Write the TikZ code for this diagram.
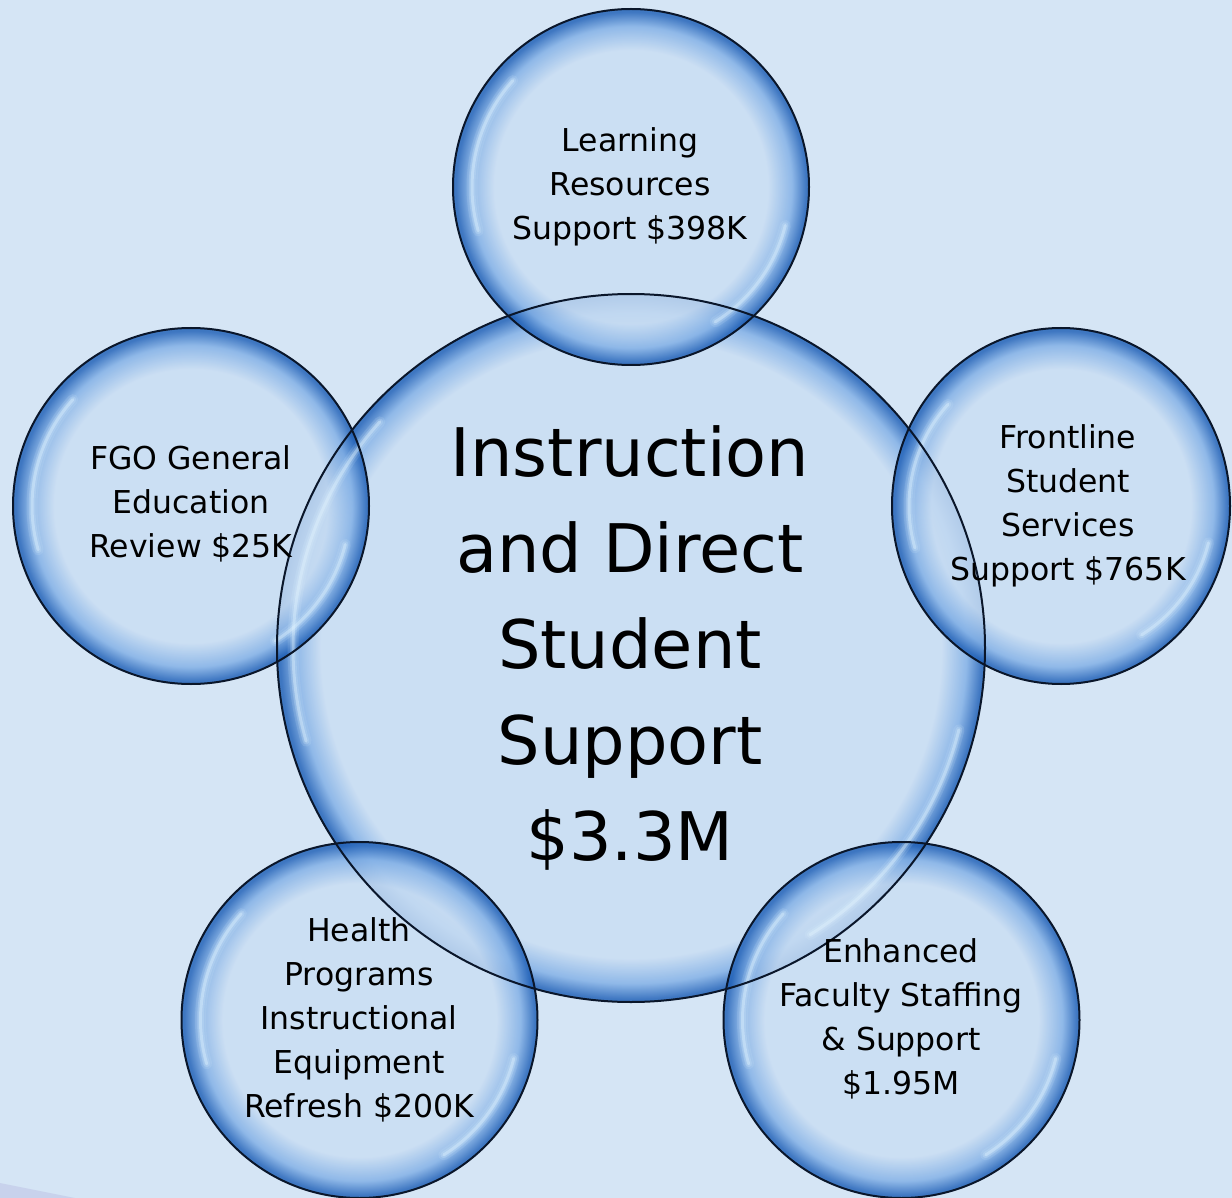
\documentclass[tikz,border=0pt]{standalone}
\usepackage{fontspec}
\setmainfont{DejaVu Sans}
\usetikzlibrary{shapes.geometric}
\definecolor{bgcol}{RGB}{213,229,245}
\definecolor{bin}{RGB}{202,222,243}
\definecolor{bmid}{RGB}{130,176,230}
\definecolor{bout}{RGB}{34,98,184}
\definecolor{rimline}{RGB}{10,22,42}
\definecolor{curl}{RGB}{200,210,236}
\definecolor{glintcol}{RGB}{225,244,255}
\pgfdeclareradialshading{bubble}{\pgfpoint{0bp}{0bp}}{color(0bp)=(bin); color(19.2bp)=(bin); color(22.6bp)=(bmid); color(24.6bp)=(bout); color(25bp)=(bout); color(50bp)=(bout)}
\pgfdeclareradialshading{bubblebig}{\pgfpoint{0bp}{0bp}}{color(0bp)=(bin); color(21.9bp)=(bin); color(23.7bp)=(bmid); color(24.8bp)=(bout); color(25bp)=(bout); color(50bp)=(bout)}
\newcommand\bubglint[3]{%
  \foreach \w/\o in {11/0.12, 6.5/0.2, 3/0.4} {
    \draw[glintcol, line width=\w pt, opacity=\o, line cap=round]
      (#1,#2) ++(-138:#3) arc[start angle=-138, end angle=-196, radius=#3];
    \draw[glintcol, line width=\w pt, opacity=\o, line cap=round]
      (#1,#2) ++(14:#3) arc[start angle=14, end angle=58, radius=#3];
  }}
\tikzset{
  smallbub/.style={shading=bubble, fill opacity=0.84},
  bigbub/.style={shading=bubblebig, fill opacity=0.84},
  ring/.style={circle, draw=rimline, line width=2pt, inner sep=0pt, outer sep=0pt},
  ovalring/.style={ellipse, draw=rimline, line width=2pt, inner sep=0pt, outer sep=0pt},
  smalltxt/.style={align=center, text=black, inner sep=0pt, font=\fontsize{31.5}{44}\selectfont},
  bigtxt/.style={align=center, text=black, inner sep=0pt, font=\fontsize{67}{96}\selectfont}
}
\begin{document}
\begin{tikzpicture}[x=1pt, y=-1pt]
  \useasboundingbox (0,0) rectangle (1232,1198);
  \fill[bgcol] (0,0) rectangle (1232,1198);
  \fill[curl] (0,1183) -- (75,1198) -- (0,1198) -- cycle;

  % bubble fills
  \shade[bigbub] (631,648) circle[radius=354];
  \shade[smallbub] (631,187) circle[radius=178];
  \shade[smallbub] (191,506) circle[radius=178];
  \shade[smallbub] (1061,506) circle[x radius=169, y radius=178];
  \shade[smallbub] (359.5,1020) circle[radius=178];
  \shade[smallbub] (901.5,1020) circle[radius=178];

  % glints
  \bubglint{631}{648}{338}
  \bubglint{631}{187}{159}
  \bubglint{191}{506}{159}
  \bubglint{1061}{506}{152}
  \bubglint{359.5}{1020}{159}
  \bubglint{901.5}{1020}{159}

  % outlines
  \node[ring, minimum size=708pt] (core) at (631,648) {};
  \node[ring, minimum size=356pt] (lrs) at (631,187) {};
  \node[ring, minimum size=356pt] (fgo) at (191,506) {};
  \node[ovalring, minimum width=338pt, minimum height=356pt] (fss) at (1061,506) {};
  \node[ring, minimum size=356pt] (hpe) at (359.5,1020) {};
  \node[ring, minimum size=356pt] (efs) at (901.5,1020) {};

  % texts
  \node[bigtxt] (coret) at (630,648) {Instruction\\and Direct\\Student\\Support\\\$3.3M};
  \node[smalltxt] (lrst) at (630,187) {Learning\\Resources\\Support \$398K};
  \node[smalltxt] (fgot) at (191,504) {FGO General\\Education\\Review \$25K};
  \node[smalltxt] (fsst) at (1068,506) {Frontline\\Student\\Services\\Support \$765K};
  \node[smalltxt] (hpet) at (359,1020) {Health\\Programs\\Instructional\\Equipment\\Refresh \$200K};
  \node[smalltxt] (efst) at (901,1019) {Enhanced\\Faculty Staffing\\\& Support\\\$1.95M};
\end{tikzpicture}
\end{document}
